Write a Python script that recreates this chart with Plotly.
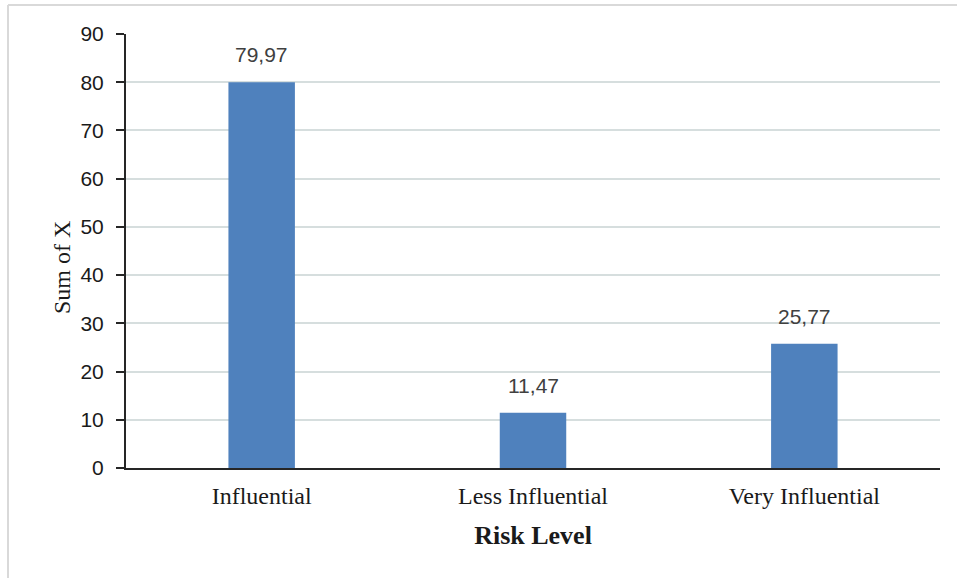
import plotly.graph_objects as go

categories = ["Influential", "Less Influential", "Very Influential"]
values = [79.97, 11.47, 25.77]
y_ticks = [0, 10, 20, 30, 40, 50, 60, 70, 80, 90]

W, H = 957, 578
L, R, T, B = 126, 17, 34, 110
pw, ph = W - L - R, H - T - B

fig = go.Figure()
fig.add_trace(go.Bar(
    x=categories, y=values,
    marker=dict(color="#4f81bd", line=dict(width=0)),
    cliponaxis=False,
))

for c, v in zip(categories, values):
    fig.add_annotation(
        x=c, y=v, xref="x", yref="y",
        text=f"{v:.2f}".replace(".", ","),
        showarrow=False, yanchor="bottom", yshift=14,
        font=dict(family="Liberation Sans, Arial, sans-serif", size=21, color="#404040"),
    )

# y-axis title (placed slightly below the plot centre, as in the reference)
fig.add_annotation(
    xref="paper", yref="paper", x=(62 - L) / pw, y=1 - (268 - T) / ph,
    text="Sum of X", textangle=-90, showarrow=False,
    xanchor="center", yanchor="middle",
    font=dict(family="Liberation Serif, Times New Roman, serif", size=24, color="#1a1a1a"),
)

fig.update_layout(
    width=W, height=H,
    margin=dict(l=L, r=R, t=T, b=B),
    paper_bgcolor="white", plot_bgcolor="white",
    separators=",.",
    bargap=0.755,
    showlegend=False,
    xaxis=dict(
        showline=True, linecolor="#262626", linewidth=2,
        ticks="", showgrid=False, ticklabelstandoff=5,
        tickfont=dict(family="Liberation Serif, Times New Roman, serif", size=24, color="#1a1a1a"),
        title=dict(text="<b>Risk Level</b>", standoff=18,
                   font=dict(family="Liberation Serif, Times New Roman, serif", size=26, color="#1a1a1a")),
    ),
    yaxis=dict(
        range=[0, 90], tickvals=y_ticks,
        showline=True, linecolor="#262626", linewidth=2,
        ticks="outside", ticklen=8, tickcolor="#262626", tickwidth=2,
        ticklabelstandoff=8,
        showgrid=True, gridcolor="#d6dede", gridwidth=1.5,
        zeroline=False,
        tickfont=dict(family="Liberation Sans, Arial, sans-serif", size=21, color="#1a1a1a"),
    ),
)

# outer chart frame (left and top edges visible)
fig.add_shape(type="line", xref="paper", yref="paper",
              x0=(8 - L) / pw, x1=(8 - L) / pw, y0=-(H - T) / ph, y1=1 + (T - 5) / ph,
              line=dict(color="#d9d9d9", width=2))
fig.add_shape(type="line", xref="paper", yref="paper",
              x0=(8 - L) / pw, x1=(W - L) / pw, y0=1 + (T - 5) / ph, y1=1 + (T - 5) / ph,
              line=dict(color="#d9d9d9", width=2))

fig.write_html("out.html")
